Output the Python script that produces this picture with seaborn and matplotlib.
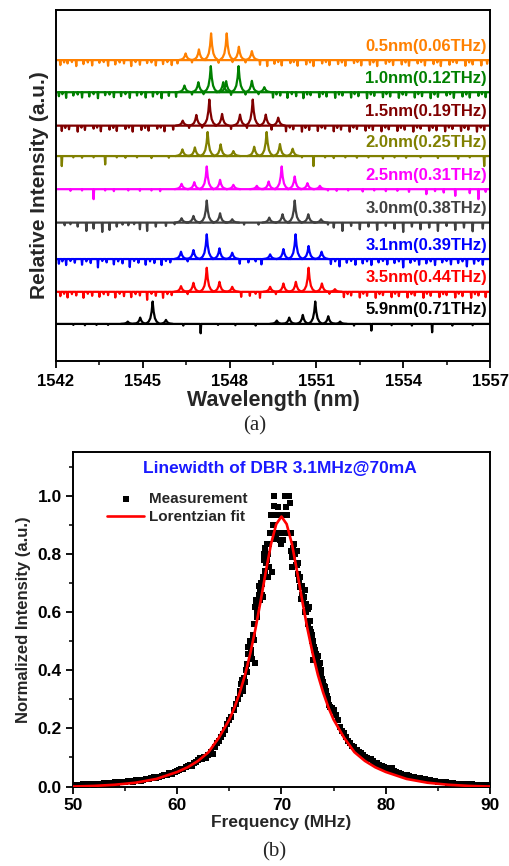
import numpy as np
import pandas as pd
import seaborn as sns
import matplotlib
matplotlib.use("Agg")
import matplotlib.pyplot as plt
from matplotlib.ticker import MultipleLocator, FormatStrFormatter

# ---------------- panel (a): optical spectra ----------------
trace_labels = ['0.5nm(0.06THz)', '1.0nm(0.12THz)', '1.5nm(0.19THz)', '2.0nm(0.25THz)',
                '2.5nm(0.31THz)', '3.0nm(0.38THz)', '3.1nm(0.39THz)', '3.5nm(0.44THz)',
                '5.9nm(0.71THz)']
trace_colors = ['#ff8000', '#008000', '#800000', '#808000', '#ff00ff',
                '#404040', '#0000ff', '#ff0000', '#000000']
trace_offsets = [9.0, 8.04, 7.04, 6.13, 5.14, 4.14, 3.05, 2.07, 1.11]

# (wavelength nm, height) of each mode peak
peaks = [
    [(1546.48, 0.20), (1546.94, 0.32), (1547.36, 0.80), (1547.90, 0.80), (1548.32, 0.40), (1548.77, 0.27)],
    [(1546.44, 0.20), (1546.92, 0.30), (1547.35, 0.78), (1547.78, 0.30), (1547.88, 0.33), (1548.31, 0.78),
     (1548.77, 0.34), (1549.20, 0.15)],
    [(1546.38, 0.15), (1546.85, 0.32), (1547.30, 0.78), (1547.74, 0.35), (1548.36, 0.33), (1548.80, 0.78),
     (1549.25, 0.33), (1549.68, 0.24)],
    [(1546.37, 0.20), (1546.80, 0.26), (1547.24, 0.72), (1547.69, 0.35), (1548.13, 0.15), (1548.85, 0.28),
     (1549.28, 0.72), (1549.74, 0.36), (1550.18, 0.22)],
    [(1546.34, 0.16), (1546.78, 0.21), (1547.21, 0.68), (1547.67, 0.28), (1548.13, 0.13), (1548.94, 0.10),
     (1549.35, 0.23), (1549.80, 0.68), (1550.25, 0.38), (1550.69, 0.18), (1551.12, 0.10)],
    [(1546.34, 0.13), (1546.75, 0.20), (1547.21, 0.66), (1547.67, 0.28), (1548.09, 0.10), (1549.37, 0.15),
     (1549.83, 0.25), (1550.25, 0.66), (1550.72, 0.25), (1551.16, 0.10)],
    [(1546.32, 0.22), (1546.75, 0.27), (1547.21, 0.74), (1547.65, 0.32), (1548.09, 0.19), (1549.40, 0.14),
     (1549.86, 0.30), (1550.28, 0.74), (1550.73, 0.39), (1551.18, 0.22)],
    [(1546.32, 0.17), (1546.75, 0.27), (1547.21, 0.72), (1547.65, 0.30), (1548.09, 0.15), (1549.40, 0.15),
     (1549.86, 0.25), (1550.29, 0.30), (1550.73, 0.72), (1551.19, 0.25), (1551.64, 0.08)],
    [(1544.48, 0.07), (1544.91, 0.19), (1545.34, 0.67), (1545.80, 0.12), (1549.63, 0.10), (1550.06, 0.19),
     (1550.53, 0.27), (1550.96, 0.67), (1551.41, 0.23), (1551.82, 0.07)],
]

# (wavelength nm, depth) of the downward noise spikes
dips = [
    [(1542.15, .15), (1542.28, .07), (1542.4, .10), (1542.55, .06), (1542.7, .18), (1542.95, .12), (1543.1, .07),
     (1543.25, .16), (1543.5, .08), (1543.65, .06), (1543.8, .17), (1544.05, .13), (1544.2, .07), (1544.35, .10),
     (1544.6, .18), (1544.75, .06), (1544.9, .14), (1545.15, .09), (1545.3, .07), (1545.45, .16), (1545.7, .12),
     (1545.85, .06), (1546.0, .15), (1546.2, .10), (1546.7, .07), (1547.62, .08), (1548.1, .06), (1548.55, .07),
     (1549.05, .14), (1549.3, .18), (1549.55, .11), (1549.68, .06), (1549.8, .16), (1550.1, .09), (1550.22, .06),
     (1550.35, .17), (1550.65, .13), (1550.78, .07), (1550.9, .18), (1551.2, .10), (1551.33, .06), (1551.45, .15),
     (1551.75, .12), (1551.88, .07), (1552.0, .17), (1552.3, .09), (1552.42, .06), (1552.55, .16), (1552.85, .14),
     (1552.97, .07), (1553.1, .18), (1553.4, .11), (1553.52, .06), (1553.65, .15), (1553.95, .13), (1554.08, .07),
     (1554.2, .17), (1554.5, .10), (1554.62, .06), (1554.75, .16), (1555.05, .12), (1555.18, .07), (1555.3, .18),
     (1555.6, .14), (1555.72, .06), (1555.85, .09), (1556.15, .17), (1556.28, .07), (1556.4, .13), (1556.7, .16),
     (1556.9, .11)],
    [(1542.1, .12), (1542.22, .06), (1542.35, .17), (1542.6, .10), (1542.75, .07), (1542.9, .16), (1543.15, .13),
     (1543.3, .06), (1543.45, .18), (1543.7, .09), (1543.85, .07), (1544.0, .15), (1544.25, .12), (1544.4, .06),
     (1544.55, .17), (1544.8, .10), (1544.95, .07), (1545.1, .16), (1545.35, .13), (1545.5, .06), (1545.65, .18),
     (1545.9, .11), (1546.15, .14), (1546.7, .07), (1547.1, .06), (1548.05, .08), (1548.55, .07), (1549.0, .06),
     (1549.5, .16), (1549.62, .07), (1549.75, .10), (1550.0, .17), (1550.15, .06), (1550.3, .12), (1550.55, .18),
     (1550.68, .07), (1550.8, .09), (1551.1, .15), (1551.22, .06), (1551.35, .13), (1551.65, .17), (1551.78, .07),
     (1551.9, .10), (1552.2, .16), (1552.32, .06), (1552.45, .12), (1552.75, .18), (1552.88, .07), (1553.0, .11),
     (1553.3, .15), (1553.42, .06), (1553.55, .13), (1553.85, .17), (1553.98, .07), (1554.1, .09), (1554.4, .16),
     (1554.52, .06), (1554.65, .12), (1554.95, .18), (1555.08, .07), (1555.2, .14), (1555.5, .10), (1555.62, .06),
     (1555.75, .17), (1556.05, .13), (1556.18, .07), (1556.3, .16), (1556.6, .11), (1556.72, .06), (1556.85, .15)],
    [(1542.2, .16), (1542.32, .07), (1542.45, .11), (1542.75, .18), (1542.88, .06), (1543.0, .13), (1543.3, .09),
     (1543.42, .06), (1543.55, .17), (1543.85, .12), (1543.98, .07), (1544.1, .16), (1544.4, .10), (1544.52, .06),
     (1544.65, .18), (1544.95, .13), (1545.08, .07), (1545.2, .15), (1545.5, .09), (1545.62, .06), (1545.75, .17),
     (1546.05, .12), (1546.6, .07), (1547.05, .06), (1548.05, .10), (1548.6, .07), (1549.45, .12), (1549.95, .17),
     (1550.08, .06), (1550.2, .11), (1550.5, .18), (1550.62, .07), (1550.75, .13), (1551.05, .16), (1551.18, .06),
     (1551.3, .09), (1551.6, .17), (1551.72, .07), (1551.85, .12), (1552.15, .18), (1552.28, .06), (1552.4, .10),
     (1552.7, .15), (1552.82, .07), (1552.95, .13), (1553.25, .17), (1553.38, .06), (1553.5, .11), (1553.8, .16),
     (1553.92, .07), (1554.05, .12), (1554.35, .18), (1554.48, .06), (1554.6, .09), (1554.9, .15), (1555.02, .07),
     (1555.15, .14), (1555.45, .17), (1555.58, .06), (1555.7, .10), (1556.0, .16), (1556.12, .07), (1556.25, .12),
     (1556.55, .18), (1556.68, .06), (1556.8, .13)],
    [(1542.2, .30), (1542.6, .04), (1542.9, .05), (1543.3, .04), (1543.7, .25), (1544.1, .04), (1544.4, .05),
     (1544.8, .04), (1545.3, .06), (1545.9, .05), (1550.5, .04), (1550.9, .30), (1551.3, .04), (1551.6, .06),
     (1552.0, .04), (1552.4, .05), (1552.8, .04), (1553.3, .07), (1553.7, .04), (1554.1, .05), (1554.6, .04),
     (1555.2, .06), (1555.9, .08), (1556.3, .04), (1556.8, .30)],
    [(1542.5, .05), (1542.9, .04), (1543.3, .30), (1543.7, .04), (1544.0, .06), (1544.5, .04), (1544.9, .05),
     (1545.3, .04), (1545.6, .06), (1551.4, .04), (1551.7, .05), (1552.1, .04), (1552.6, .07), (1553.0, .04),
     (1553.4, .06), (1553.8, .05), (1554.2, .08), (1554.8, .15), (1555.1, .06), (1555.4, .10), (1555.8, .20),
     (1556.3, .12), (1556.6, .30), (1556.85, .08)],
    [(1542.3, .08), (1542.5, .05), (1542.75, .12), (1543.05, .25), (1543.3, .18), (1543.6, .28), (1543.85, .22),
     (1544.1, .12), (1544.3, .06), (1544.5, .08), (1544.7, .05), (1544.9, .20), (1545.15, .25), (1545.45, .12),
     (1545.8, .10), (1546.1, .05), (1548.5, .06), (1549.0, .06), (1551.4, .06), (1551.6, .15), (1551.9, .25),
     (1552.2, .10), (1552.5, .20), (1552.8, .12), (1553.1, .22), (1553.4, .10), (1553.7, .18), (1554.0, .28),
     (1554.3, .12), (1554.6, .20), (1554.9, .15), (1555.2, .25), (1555.5, .10), (1555.8, .22), (1556.1, .15),
     (1556.4, .26), (1556.75, .18)],
    [(1542.1, .14), (1542.22, .07), (1542.35, .18), (1542.5, .06), (1542.65, .11), (1542.9, .17), (1543.05, .07),
     (1543.2, .12), (1543.45, .25), (1543.6, .06), (1543.75, .10), (1544.0, .16), (1544.15, .07), (1544.3, .13),
     (1544.55, .24), (1544.7, .06), (1544.85, .11), (1545.1, .17), (1545.25, .07), (1545.4, .12), (1545.65, .18),
     (1545.8, .06), (1545.95, .10), (1546.55, .07), (1548.35, .14), (1548.65, .10), (1548.9, .07), (1549.1, .16),
     (1551.5, .15), (1551.65, .07), (1551.8, .22), (1552.05, .11), (1552.2, .06), (1552.35, .17), (1552.6, .13),
     (1552.75, .07), (1552.9, .18), (1553.15, .10), (1553.3, .06), (1553.45, .16), (1553.7, .12), (1553.85, .07),
     (1554.0, .25), (1554.25, .11), (1554.4, .06), (1554.55, .17), (1554.8, .13), (1554.95, .07), (1555.1, .18),
     (1555.35, .10), (1555.5, .06), (1555.65, .16), (1555.9, .12), (1556.05, .07), (1556.2, .22), (1556.45, .14),
     (1556.6, .06), (1556.75, .17)],
    [(1542.15, .13), (1542.28, .06), (1542.4, .17), (1542.55, .07), (1542.7, .11), (1542.95, .18), (1543.1, .06),
     (1543.25, .12), (1543.5, .15), (1543.65, .07), (1543.8, .10), (1544.05, .17), (1544.2, .06), (1544.35, .13),
     (1544.6, .16), (1544.75, .07), (1544.9, .11), (1545.15, .24), (1545.3, .06), (1545.45, .12), (1545.7, .18),
     (1545.85, .07), (1546.0, .10), (1546.55, .07), (1548.4, .15), (1548.7, .12), (1548.9, .06), (1549.05, .18),
     (1549.6, .07), (1551.45, .06), (1551.95, .16), (1552.08, .07), (1552.2, .11), (1552.5, .17), (1552.62, .06),
     (1552.75, .12), (1553.05, .18), (1553.18, .07), (1553.3, .10), (1553.6, .16), (1553.72, .06), (1553.85, .13),
     (1554.15, .17), (1554.28, .07), (1554.4, .11), (1554.7, .18), (1554.82, .06), (1554.95, .12), (1555.25, .16),
     (1555.38, .07), (1555.5, .10), (1555.8, .17), (1555.92, .06), (1556.05, .13), (1556.35, .18), (1556.48, .07),
     (1556.6, .11), (1556.85, .16)],
    [(1542.6, .03), (1543.0, .04), (1543.4, .03), (1543.8, .03), (1546.4, .05), (1547.0, .28), (1547.6, .03),
     (1548.2, .04), (1548.9, .05), (1552.3, .05), (1552.9, .20), (1553.6, .04), (1554.3, .05), (1555.0, .25),
     (1555.7, .05), (1556.4, .04)],
]

# ---------------- panel (b): linewidth measurement ----------------
meas_freq = [50.0, 50.25, 50.5, 50.75, 51.0, 51.25, 51.5, 51.75, 52.0, 52.25, 52.5, 52.75, 53.0, 53.25,
             53.5, 53.75, 54.0, 54.25, 54.5, 54.75, 55.0, 55.25, 55.5, 55.75, 56.0, 56.25, 56.5, 56.75,
             57.0, 57.25, 57.5, 57.75, 58.0, 58.25, 58.5, 58.75, 59.0, 59.25, 59.5, 59.75, 60.0,
             60.2, 60.4, 60.6, 60.8, 61.0, 61.2, 61.4, 61.6, 61.8, 62.0, 62.2, 62.4, 62.6, 62.8, 63.0,
             63.2, 63.4, 63.6, 63.8, 64.0, 64.2, 64.4, 64.6, 64.8, 65.0, 65.2, 65.4, 65.6, 65.8, 66.0,
             66.1, 66.2, 66.3, 66.4, 66.5, 66.6, 66.7, 66.75, 66.8, 66.9, 67.0, 67.1, 67.2, 67.3, 67.4,
             67.45, 67.5, 67.55, 67.6, 67.7, 67.8, 67.85, 67.9, 68.0, 68.1, 68.2, 68.25, 68.3, 68.35,
             68.4, 68.5, 68.6, 68.7, 68.75, 68.8, 68.9, 69.0, 69.05, 69.1, 69.2, 69.25, 69.3, 69.4, 69.5,
             69.6, 69.7, 69.8, 69.9, 70.0, 70.05, 70.1, 70.2, 70.3, 70.4, 70.5, 70.6, 70.7, 70.8, 70.9,
             71.0, 71.05, 71.1, 71.2, 71.3, 71.45, 71.5, 71.6, 71.65, 71.7, 71.8, 71.9, 72.0, 72.1,
             72.25, 72.3, 72.4, 72.5, 72.6, 72.7, 72.8, 72.9, 73.0, 73.05, 73.1, 73.2, 73.3, 73.4, 73.5,
             73.6, 73.7, 73.8, 73.9, 74.0, 74.1, 74.2, 74.3, 74.4, 74.5, 74.6, 74.7, 74.8, 74.9, 75.0,
             75.2, 75.4, 75.6, 75.8, 76.0, 76.2, 76.4, 76.6, 76.8, 77.0, 77.2, 77.4, 77.6, 77.8, 78.0,
             78.2, 78.4, 78.6, 78.8, 79.0, 79.2, 79.4, 79.6, 79.8, 80.0, 80.2, 80.4, 80.6, 80.8, 81.0,
             81.25, 81.5, 81.75, 82.0, 82.25, 82.5, 82.75, 83.0, 83.25, 83.5, 83.75, 84.0, 84.25, 84.5,
             84.75, 85.0, 85.25, 85.5, 85.75, 86.0, 86.25, 86.5, 86.75, 87.0, 87.25, 87.5, 87.75, 88.0,
             88.25, 88.5, 88.75, 89.0, 89.25, 89.5, 89.75, 90.0,
             66.05, 66.35, 66.65, 67.05, 67.35, 67.65, 67.95, 68.15, 68.45, 68.65, 68.85, 69.15, 69.35,
             69.45, 69.65, 69.75, 70.15, 70.25, 70.45, 70.55, 70.65, 70.75, 70.95, 71.15, 71.35, 71.55,
             71.75, 71.95, 72.15, 72.35, 72.55, 72.75, 72.95, 73.15, 73.45, 73.75]
meas_int = [0.005, 0.006, 0.004, 0.006, 0.007, 0.005, 0.007, 0.008, 0.006, 0.009, 0.010, 0.008, 0.011, 0.012,
            0.010, 0.013, 0.014, 0.012, 0.015, 0.016, 0.015, 0.018, 0.019, 0.017, 0.021, 0.022, 0.020, 0.024,
            0.026, 0.025, 0.029, 0.031, 0.030, 0.034, 0.036, 0.038, 0.041, 0.045, 0.043, 0.050, 0.054,
            0.058, 0.061, 0.059, 0.066, 0.070, 0.074, 0.072, 0.080, 0.084, 0.090, 0.097, 0.094, 0.101, 0.099,
            0.108, 0.120, 0.112, 0.135, 0.148, 0.156, 0.170, 0.182, 0.195, 0.214, 0.228, 0.240, 0.262, 0.283,
            0.300, 0.330,
            0.352, 0.366, 0.340, 0.372, 0.360, 0.400, 0.420, 0.480, 0.455, 0.480, 0.500, 0.455, 0.440, 0.520,
            0.560, 0.617, 0.424, 0.629, 0.640, 0.600, 0.690, 0.660, 0.674, 0.700, 0.697, 0.720, 0.651, 0.800,
            0.777, 0.820, 0.770, 0.834, 0.800, 0.720, 0.754, 0.872, 0.934, 0.737, 0.934, 0.900, 0.963, 1.000,
            0.934, 0.872, 0.872, 0.960, 0.872, 0.848, 0.832, 0.934, 0.848, 0.872, 1.000, 0.934, 1.000, 0.872,
            1.000, 0.975, 0.872, 0.754, 0.790, 0.820, 0.834, 0.800, 0.810, 0.760, 0.770, 0.720, 0.709, 0.686,
            0.646, 0.690, 0.646, 0.674, 0.600, 0.629, 0.610, 0.617, 0.570, 0.530, 0.520, 0.500, 0.434, 0.480,
            0.470, 0.455, 0.440, 0.450, 0.410, 0.424, 0.400, 0.370, 0.360, 0.345, 0.343, 0.330, 0.310, 0.300,
            0.280, 0.274, 0.270, 0.258, 0.263,
            0.245, 0.229, 0.206, 0.190, 0.185, 0.170, 0.155, 0.149, 0.140, 0.135, 0.126, 0.120, 0.114, 0.110,
            0.103, 0.099, 0.095, 0.093, 0.088, 0.082, 0.080, 0.075, 0.072, 0.066, 0.063, 0.060, 0.058, 0.062,
            0.053, 0.049,
            0.046, 0.043, 0.040, 0.038, 0.036, 0.034, 0.032, 0.030, 0.028, 0.026, 0.025, 0.023, 0.021, 0.020,
            0.018, 0.017, 0.016, 0.015, 0.014, 0.013, 0.012, 0.011, 0.010, 0.010, 0.009, 0.008, 0.008, 0.007,
            0.007, 0.006, 0.006, 0.005, 0.005, 0.005, 0.004, 0.004,
            0.318, 0.330, 0.395, 0.470, 0.505, 0.582, 0.640, 0.660, 0.740, 0.780, 0.834, 0.872, 0.934,
            0.850, 0.934, 0.872, 0.934, 0.872, 0.960, 0.934, 0.872, 0.872, 0.810, 0.790, 0.760, 0.730,
            0.720, 0.660, 0.650, 0.600, 0.560, 0.540, 0.500, 0.470, 0.430, 0.385]

fit_freq = [50, 52, 54, 56, 58, 60, 61, 62, 63, 64, 65, 65.5, 66, 66.5, 67, 67.5, 68, 68.5, 69, 69.5, 70,
            70.5, 71, 71.5, 72, 72.5, 73, 73.5, 74, 74.5, 75, 76, 77, 78, 79, 80, 82, 84, 86, 88, 90]
fit_int = [0.000, 0.002, 0.006, 0.013, 0.026, 0.050, 0.066, 0.088, 0.118, 0.168, 0.230, 0.272, 0.323,
           0.383, 0.456, 0.541, 0.637, 0.739, 0.834, 0.902, 0.928, 0.902, 0.834, 0.739, 0.637, 0.541,
           0.456, 0.383, 0.323, 0.272, 0.230, 0.168, 0.118, 0.088, 0.066, 0.050, 0.026, 0.013, 0.006,
           0.002, 0.000]

# shape used to draw one mode peak (offset in nm, fraction of peak height)
PEAK_DX = [-0.24, -0.14, -0.08, -0.035, 0.0, 0.035, 0.08, 0.14, 0.24]
PEAK_FRAC = [0.0, 0.1, 0.25, 0.55, 1.0, 0.55, 0.25, 0.1, 0.0]

sns.set_style('ticks')
plt.rcParams['font.family'] = ['Liberation Sans', 'DejaVu Sans']
plt.rcParams['font.weight'] = 'bold'
plt.rcParams['axes.labelweight'] = 'bold'

fig = plt.figure(figsize=(5.1, 8.66), dpi=100)
ax_a = fig.add_axes([0.1098, 0.5831, 0.851, 0.4054])
ax_b = fig.add_axes([0.1431, 0.0918, 0.8176, 0.3863])

for i in range(len(trace_labels)):
    off = trace_offsets[i]
    rows = [(1542.0, off, 0), (1557.0, off, 0)]
    for d, depth in dips[i]:
        rows += [(d - 0.018, off, 0), (d, off - depth, 0), (d + 0.018, off, 0)]
    for k, (p, h) in enumerate(peaks[i]):
        rows += [(p + dx, off + h * fr, k + 1) for dx, fr in zip(PEAK_DX, PEAK_FRAC)]
    df = pd.DataFrame(rows, columns=['x', 'y', 'unit']).sort_values(['unit', 'x'])
    sns.lineplot(data=df, x='x', y='y', units='unit', estimator=None, sort=False,
                 color=trace_colors[i], lw=1.6, ax=ax_a, legend=False)
    ax_a.text(1556.9, off + 0.42, trace_labels[i], color=trace_colors[i], fontsize=12,
              fontweight='bold', ha='right', va='center')

ax_a.set_xlim(1542, 1557)
ax_a.set_ylim(0, 10.5)
ax_a.set_yticks([])
ax_a.xaxis.set_major_locator(MultipleLocator(3))
ax_a.xaxis.set_minor_locator(MultipleLocator(1.5))
ax_a.tick_params(axis='x', which='major', length=5, width=1.3, labelsize=12, pad=4, colors='black')
ax_a.tick_params(axis='x', which='minor', length=3, width=1.3)
ax_a.set_xlabel('Wavelength (nm)', fontsize=15.5, labelpad=1)
ax_a.set_ylabel('Relative Intensity (a.u.)', fontsize=15, labelpad=5)

# panel b
sns.scatterplot(x=meas_freq, y=meas_int, marker='s', s=15, color='black', linewidth=0,
                ax=ax_b, label='Measurement', zorder=2)
sns.lineplot(x=fit_freq, y=fit_int, color='#ff0000', lw=1.9, ax=ax_b, label='Lorentzian fit', zorder=3)

ax_b.set_xlim(50, 90)
ax_b.set_ylim(0, 1.15)
ax_b.xaxis.set_major_locator(MultipleLocator(10))
ax_b.xaxis.set_minor_locator(MultipleLocator(5))
ax_b.yaxis.set_major_locator(MultipleLocator(0.2))
ax_b.yaxis.set_minor_locator(MultipleLocator(0.1))
ax_b.yaxis.set_major_formatter(FormatStrFormatter('%.1f'))
ax_b.tick_params(which='major', length=5, width=1.3, labelsize=12.5, pad=3, colors='black')
ax_b.tick_params(which='minor', length=3, width=1.3)
ax_b.set_xlabel('Frequency (MHz)', fontsize=12.5, labelpad=2)
ax_b.set_ylabel('Normalized Intensity (a.u.)', fontsize=12, labelpad=5)
ax_b.text(0.496, 0.952, 'Linewidth of DBR 3.1MHz@70mA', color='#1a1aff', fontsize=12.5,
          fontweight='bold', ha='center', va='center', transform=ax_b.transAxes)
ax_b.legend(loc='upper left', bbox_to_anchor=(0.068, 0.9), frameon=False, fontsize=11,
            handlelength=2.4, handletextpad=0.3, labelspacing=0.3, borderaxespad=0)

for ax in (ax_a, ax_b):
    for sp in ax.spines.values():
        sp.set_visible(True)
        sp.set_linewidth(1.4)
        sp.set_color('black')

fig.text(0.5, 0.508, '(a)', family='Liberation Serif', fontweight='normal', fontsize=15,
         ha='center', va='center')
fig.text(0.537, 0.016, '(b)', family='Liberation Serif', fontweight='normal', fontsize=15,
         ha='center', va='center')

fig.savefig('out.png', dpi=100)
